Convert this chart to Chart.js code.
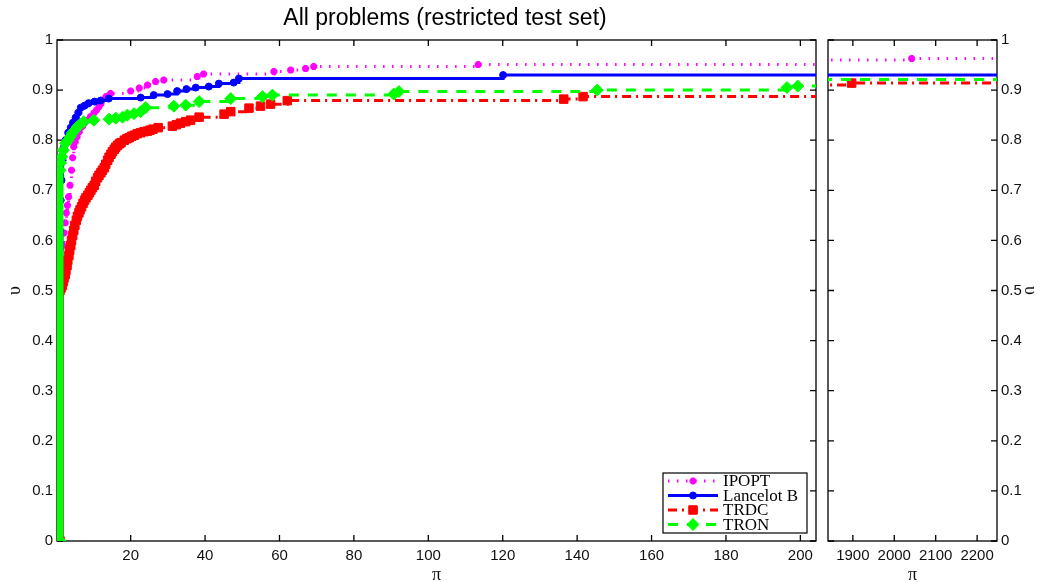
<!DOCTYPE html>
<html>
<head>
<meta charset="utf-8">
<script src="https://cdn.jsdelivr.net/npm/chart.js@4.4.1/dist/chart.umd.min.js"></script>
<style>
  html, body { margin: 0; padding: 0; background: #fff; }
  #wrap { position: relative; width: 1047px; height: 582px; }
  #wrap canvas { position: absolute; left: 0; top: 0; }
</style>
</head>
<body>
<div id="wrap">
  <canvas id="mainChart" width="1047" height="582"></canvas>
  <canvas id="tailChart" width="1047" height="582"></canvas>
</div>
<script>
// Dữ liệu: (tỉ số hiệu năng, tỉ lệ bài toán)
var solverNames = ['IPOPT', 'Lancelot B', 'TRDC', 'TRON'];

var ipoptX = [1, 1, 1.8, 2.1, 2.4, 2.7, 3.0, 3.3, 3.7, 4.1, 4.4, 4.7, 5.1, 5.6, 6.2, 6.9, 7.6, 8.4, 9.2, 10.1,
  10.8, 11.5, 12.0, 12.4, 13.4, 14.6, 20.0, 22.3, 24.5, 26.7, 28.9, 37.9, 39.6, 58.5, 63.0, 67.0, 69.2, 113.4, 1000, 2042, 2300];
var ipoptY = [0, 0.55, 0.59, 0.615, 0.635, 0.655, 0.67, 0.687, 0.71, 0.74, 0.765, 0.787, 0.797, 0.807, 0.817, 0.827, 0.834, 0.84, 0.847, 0.854,
  0.86, 0.867, 0.873, 0.88, 0.887, 0.893, 0.898, 0.904, 0.91, 0.917, 0.92, 0.927, 0.932, 0.937, 0.94, 0.943, 0.947, 0.951, 0.96, 0.963, 0.963];

var lancelotX = [1, 1, 1.2, 1.4, 1.7, 2.0, 2.5, 3.2, 3.9, 4.5, 5.2, 5.9, 6.6, 7.6, 8.7, 10.3, 11.9, 14.1, 22.7, 26.2,
  29.9, 32.5, 35.0, 37.5, 41.0, 43.7, 47.7, 49.1, 120.1, 2300];
var lancelotY = [0, 0.62, 0.68, 0.72, 0.76, 0.785, 0.80, 0.815, 0.825, 0.835, 0.845, 0.855, 0.865, 0.869, 0.874, 0.877, 0.879, 0.883, 0.885, 0.89,
  0.892, 0.898, 0.902, 0.905, 0.907, 0.913, 0.915, 0.923, 0.93, 0.93];

var trdcX = [1, 1, 1.3, 1.6, 1.9, 2.1, 2.4, 2.6, 2.9, 3.1, 3.4, 3.6, 3.9, 4.1, 4.4, 4.7, 5.0, 5.4, 5.7, 6.1,
  6.4, 6.8, 7.2, 7.6, 8.0, 8.5, 8.9, 9.3, 9.7, 10.2, 10.6, 11.1, 11.5, 12.0, 12.4, 12.9, 13.3, 13.8, 14.2, 14.7,
  15.1, 15.6, 16.0, 16.5, 17.0, 17.4, 18.3, 19.0, 19.6, 20.3, 21.0, 21.8, 22.7, 23.6, 24.5, 25.2, 26.0, 27.4, 31.2, 32.3,
  33.4, 34.8, 36.1, 38.4, 45.1, 46.9, 51.8, 54.9, 57.6, 62.1, 136.4, 141.6, 1000, 1897, 2300];
var trdcY = [0, 0.50, 0.505, 0.51, 0.518, 0.525, 0.532, 0.54, 0.55, 0.56, 0.57, 0.58, 0.59, 0.60, 0.61, 0.62, 0.63, 0.64, 0.648, 0.655,
  0.661, 0.667, 0.674, 0.68, 0.685, 0.69, 0.695, 0.70, 0.705, 0.71, 0.718, 0.725, 0.73, 0.735, 0.74, 0.745, 0.752, 0.76, 0.766, 0.772,
  0.777, 0.782, 0.786, 0.79, 0.793, 0.795, 0.80, 0.803, 0.805, 0.808, 0.81, 0.813, 0.815, 0.817, 0.818, 0.82, 0.822, 0.825, 0.828, 0.831,
  0.834, 0.837, 0.84, 0.846, 0.852, 0.857, 0.864, 0.868, 0.872, 0.879, 0.882, 0.887, 0.910, 0.914, 0.914];

var tronX = [1, 1, 1.2, 1.5, 1.9, 2.5, 3.2, 3.8, 4.3, 5.0, 5.7, 6.5, 7.4, 10.1, 14.2, 16.0, 17.8, 19.1, 20.9, 22.7,
  24.0, 31.6, 34.8, 38.4, 46.9, 55.4, 58.1, 90.7, 92.1, 145.4, 196.4, 199.3, 1000, 2300];
var tronY = [0, 0.74, 0.755, 0.767, 0.78, 0.794, 0.80, 0.807, 0.814, 0.82, 0.827, 0.832, 0.837, 0.84, 0.842, 0.844, 0.846, 0.85, 0.853, 0.857,
  0.865, 0.868, 0.87, 0.877, 0.883, 0.887, 0.89, 0.892, 0.897, 0.90, 0.905, 0.908, 0.921, 0.921];

var mainXTicks = [20, 40, 60, 80, 100, 120, 140, 160, 180, 200];
var tailXTicks = [1900, 2000, 2100, 2200];
var yTicks = [0, 0.1, 0.2, 0.3, 0.4, 0.5, 0.6, 0.7, 0.8, 0.9, 1];

var solverX = [ipoptX, lancelotX, trdcX, tronX];
var solverY = [ipoptY, lancelotY, trdcY, tronY];

// Kiểu vẽ cho từng đường
var seriesStyle = [
  { color: '#ff00ff', dash: [1.5, 7.5], width: 3, point: 'star', radius: 3.5, pointBorder: 2.5, order: 3 },
  { color: '#0000ff', dash: [], width: 3, point: 'circle', radius: 3.5, pointBorder: 1, order: 2 },
  { color: '#ff0000', dash: [9, 5, 2, 5], width: 3, point: 'rect', radius: 6, pointBorder: 1, order: 1 },
  { color: '#00ff00', dash: [10, 9], width: 3, point: 'rectRot', radius: 6, pointBorder: 1, order: 0 }
];

var tickFont = { family: "'Liberation Sans', Arial, sans-serif", size: 15 };
var symbolFont = { family: "'Liberation Serif', 'DejaVu Serif', serif", size: 18, lineHeight: 1 };

function buildDatasets() {
  return solverX.map(function (xs, i) {
    var st = seriesStyle[i];
    return {
      label: solverNames[i],
      data: xs.map(function (x, k) { return { x: x, y: solverY[i][k] }; }),
      borderColor: st.color,
      backgroundColor: st.color,
      borderWidth: st.width,
      borderDash: st.dash,
      pointStyle: st.point,
      pointRadius: st.radius,
      pointBorderWidth: st.pointBorder,
      pointBackgroundColor: st.color,
      pointBorderColor: st.color,
      stepped: true,
      fill: false,
      order: st.order,
      // đoạn dựng đứng tại tỉ số 1 là chồng các điểm đánh dấu
      segment: {
        borderWidth: function (c) { return c.p0DataIndex === 0 ? 7 : undefined; },
        borderDash: function (c) { return c.p0DataIndex === 0 ? [] : undefined; }
      }
    };
  });
}

// Khung và vạch chia hướng vào trong (kiểu MATLAB)
var framePlugin = {
  id: 'frame',
  beforeDatasetsDraw: function (chart) {
    var ctx = chart.ctx, a = chart.chartArea, sx = chart.scales.x, sy = chart.scales.y;
    ctx.save();
    ctx.strokeStyle = '#000';
    ctx.lineWidth = 1.3;
    ctx.beginPath();
    sx.ticks.forEach(function (t) {
      var px = sx.getPixelForValue(t.value);
      ctx.moveTo(px, a.bottom); ctx.lineTo(px, a.bottom - 6);
      ctx.moveTo(px, a.top); ctx.lineTo(px, a.top + 6);
    });
    sy.ticks.forEach(function (t) {
      var py = sy.getPixelForValue(t.value);
      ctx.moveTo(a.left, py); ctx.lineTo(a.left + 6, py);
      ctx.moveTo(a.right, py); ctx.lineTo(a.right - 6, py);
    });
    ctx.stroke();
    ctx.strokeRect(a.left, a.top, a.right - a.left, a.bottom - a.top);
    ctx.restore();
  }
};

function drawMarker(ctx, st, x, y) {
  ctx.fillStyle = st.color;
  ctx.strokeStyle = st.color;
  ctx.lineWidth = st.pointBorder;
  ctx.setLineDash([]);
  Chart.helpers.drawPoint(ctx, { pointStyle: st.point, radius: st.radius, borderWidth: st.pointBorder, rotation: 0 }, x, y);
}

// Tiêu đề và chú thích cho biểu đồ chính
var titleLegendPlugin = {
  id: 'titleLegend',
  afterDraw: function (chart) {
    var ctx = chart.ctx;
    ctx.save();
    ctx.fillStyle = '#000';
    ctx.font = "23px 'Liberation Sans', Arial, sans-serif";
    ctx.textAlign = 'center';
    ctx.textBaseline = 'middle';
    ctx.fillText('All problems (restricted test set)', 445, 19);

    var box = { left: 663, top: 473, right: 807, bottom: 533 };
    ctx.fillStyle = '#fff';
    ctx.fillRect(box.left, box.top, box.right - box.left, box.bottom - box.top);
    ctx.strokeStyle = '#000';
    ctx.lineWidth = 1.2;
    ctx.strokeRect(box.left, box.top, box.right - box.left, box.bottom - box.top);

    var rows = [481, 495.5, 510, 524.5];
    ctx.font = "17px 'Liberation Serif', 'Times New Roman', serif";
    ctx.textAlign = 'left';
    rows.forEach(function (ry, i) {
      var st = seriesStyle[i];
      ctx.strokeStyle = st.color;
      ctx.lineWidth = st.width;
      ctx.setLineDash(st.dash);
      ctx.beginPath();
      ctx.moveTo(668, ry);
      ctx.lineTo(718, ry);
      ctx.stroke();
      drawMarker(ctx, st, 693, ry);
      ctx.fillStyle = '#000';
      ctx.fillText(solverNames[i], 723, ry + 1);
    });
    ctx.restore();
  }
};

function makeChart(canvasId, xMin, xMax, xTicks, padding, yPos, yWidth, titleOffset, plugins) {
  var ctx = document.getElementById(canvasId).getContext('2d');
  return new Chart(ctx, {
    type: 'line',
    data: { datasets: buildDatasets() },
    plugins: plugins,
    options: {
      responsive: false,
      animation: false,
      devicePixelRatio: 1,
      layout: { padding: padding },
      plugins: { legend: { display: false }, tooltip: { enabled: false }, title: { display: false } },
      scales: {
        x: {
          type: 'linear',
          min: xMin,
          max: xMax,
          grid: { display: false, drawTicks: false, tickLength: 0 },
          border: { display: false },
          afterBuildTicks: function (s) { s.ticks = xTicks.map(function (v) { return { value: v }; }); },
          afterFit: function (s) { s.height = 41; },
          ticks: {
            color: '#111', font: tickFont, padding: 6, maxRotation: 0, autoSkip: false,
            callback: function (v) { return String(v); }
          },
          title: { display: true, text: 'π', color: '#111', font: symbolFont, padding: { top: 0, bottom: -2 } }
        },
        y: {
          type: 'linear',
          position: yPos,
          min: 0,
          max: 1,
          grid: { display: false, drawTicks: false, tickLength: 0 },
          border: { display: false },
          afterBuildTicks: function (s) { s.ticks = yTicks.map(function (v) { return { value: v }; }); },
          afterFit: function (s) { s.width = yWidth; },
          ticks: {
            color: '#111', font: tickFont, padding: 4, autoSkip: false,
            callback: function (v) { return String(Math.round(v * 10) / 10); }
          },
          title: { display: true, text: 'υ', color: '#111', font: symbolFont, padding: { top: titleOffset, bottom: 0 } }
        }
      }
    }
  });
}

var mainChart = makeChart('mainChart', 0.2, 204.2, mainXTicks,
  { left: 0, right: 231, top: 40, bottom: 0 }, 'left', 57, 6, [framePlugin, titleLegendPlugin]);
var tailChart = makeChart('tailChart', 1840, 2248, tailXTicks,
  { left: 828, right: 0, top: 40, bottom: 0 }, 'right', 50, 8, [framePlugin]);
</script>
</body>
</html>
